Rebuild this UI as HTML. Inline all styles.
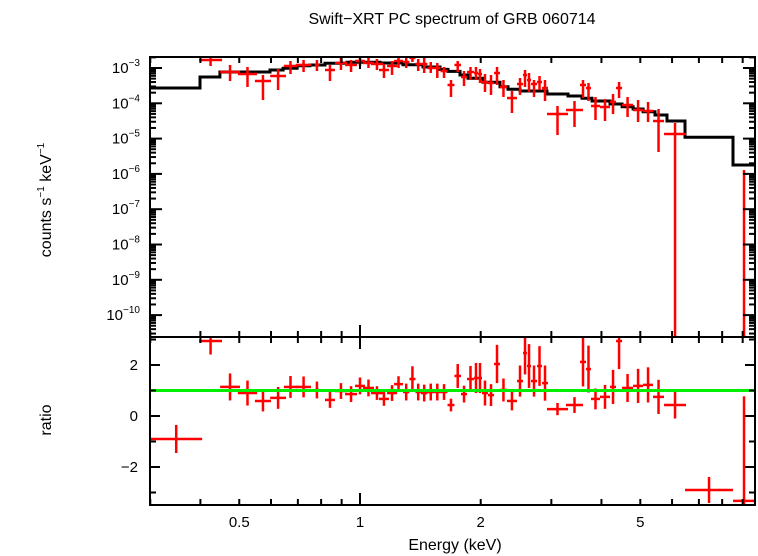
<!DOCTYPE html>
<html><head><meta charset="utf-8">
<style>
html,body{margin:0;padding:0;background:#fff;width:758px;height:556px;overflow:hidden;}
svg{display:block;font-family:"Liberation Sans",sans-serif;}
</style></head>
<body>
<svg id="chart" width="758" height="556" viewBox="0 0 758 556" xmlns="http://www.w3.org/2000/svg">
<defs>
<clipPath id="clipTop"><rect x="150" y="57" width="605" height="280"/></clipPath>
<clipPath id="clipBot"><rect x="150" y="337" width="605" height="168"/></clipPath>
</defs>
<rect width="758" height="556" fill="#fff"/>
<text x="452" y="24" font-size="16" text-anchor="middle">Swift−XRT PC spectrum of GRB 060714</text>
<text transform="translate(51,200) rotate(-90)" font-size="16" text-anchor="middle">counts s<tspan font-size="10" dy="-7">−1</tspan><tspan dy="7"> keV</tspan><tspan font-size="10" dy="-7">−1</tspan></text>
<text transform="translate(51,420) rotate(-90)" font-size="16" text-anchor="middle">ratio</text>
<text x="455" y="550" font-size="16" text-anchor="middle">Energy (keV)</text>
<g id="gModel" clip-path="url(#clipTop)"></g>
<g id="gTop" clip-path="url(#clipTop)"></g>
<g id="gBot" clip-path="url(#clipBot)"></g>
<g id="gAxes"></g>
</svg>
<script>
// energy bins (keV)
const eLo = [0.300,0.397,0.448,0.496,0.547,0.597,0.646,0.693,0.772,0.818,0.866,0.918,0.972,1.017,1.065,1.115,1.168,1.216,1.280,1.328,1.375,1.419,1.473,1.530,1.588,1.653,1.720,1.786,1.849,1.924,1.969,2.015,2.085,2.159,2.234,2.325,2.463,2.550,2.609,2.670,2.763,2.844,2.926,3.264,3.537,3.661,3.767,3.967,4.202,4.350,4.503,4.797,5.080,5.379,5.730,6.464,8.516];
const eHi = [0.404,0.453,0.502,0.554,0.600,0.654,0.697,0.755,0.790,0.866,0.928,0.983,1.029,1.084,1.141,1.181,1.237,1.280,1.328,1.375,1.419,1.473,1.530,1.588,1.653,1.720,1.786,1.849,1.924,1.969,2.015,2.085,2.159,2.234,2.325,2.463,2.550,2.609,2.670,2.763,2.844,2.943,3.302,3.598,3.661,3.767,3.967,4.202,4.350,4.503,4.797,5.080,5.379,5.730,6.501,8.516,9.77];
// counts s^-1 keV^-1 (null = non-positive)
const rate = [null,1.69e-3,7.70e-4,6.76e-4,4.28e-4,5.93e-4,1.14e-3,1.22e-3,1.22e-3,8.78e-4,1.39e-3,1.22e-3,1.58e-3,1.39e-3,1.30e-3,8.78e-4,1.14e-3,1.58e-3,1.48e-3,1.92e-3,1.30e-3,1.30e-3,1.0e-3,1.0e-3,8.22e-4,3.30e-4,1.22e-3,5.56e-4,7.70e-4,7.22e-4,6.76e-4,4.01e-4,3.76e-4,7.22e-4,2.90e-4,1.41e-4,3.52e-4,6.33e-4,4.57e-4,3.52e-4,4.01e-4,2.71e-4,4.98e-5,6.46e-5,3.30e-4,2.71e-4,8.39e-5,7.86e-5,1.09e-4,2.71e-4,8.95e-5,6.46e-5,6.05e-5,3.15e-5,1.35e-5,null,null];
const rateUp = [null,2.05e-3,1.22e-3,1.07e-3,6.33e-4,9.37e-4,1.58e-3,1.69e-3,1.69e-3,1.22e-3,1.92e-3,1.69e-3,2.19e-3,1.92e-3,1.80e-3,1.30e-3,1.58e-3,2.19e-3,2.19e-3,2.34e-3,1.80e-3,1.92e-3,1.48e-3,1.39e-3,1.07e-3,4.57e-4,1.58e-3,8.22e-4,1.07e-3,1.07e-3,9.37e-4,6.76e-4,6.33e-4,1.07e-3,4.57e-4,2.23e-4,5.21e-4,8.78e-4,7.22e-4,4.57e-4,5.93e-4,4.57e-4,8.39e-5,1.16e-4,4.57e-4,3.76e-4,1.51e-4,1.32e-4,1.83e-4,4.01e-4,1.51e-4,1.24e-4,1.09e-4,6.90e-5,2.77e-5,null,1.29e-6];
const rateDn = [null,1.14e-3,4.28e-4,2.90e-4,1.24e-4,2.38e-4,6.76e-4,7.70e-4,8.22e-4,4.28e-4,8.78e-4,7.70e-4,1.14e-3,1.0e-3,8.78e-4,5.21e-4,6.33e-4,1.0e-3,1.0e-3,1.48e-3,8.22e-4,7.22e-4,7.22e-4,5.21e-4,5.21e-4,1.51e-4,7.70e-4,3.09e-4,4.57e-4,4.57e-4,3.76e-4,2.09e-4,1.72e-4,3.30e-4,1.51e-4,5.31e-5,1.72e-4,2.90e-4,2.09e-4,1.51e-4,2.38e-4,1.16e-4,1.26e-5,2.13e-5,1.41e-4,1.16e-4,3.37e-5,3.15e-5,4.98e-5,1.41e-4,4.09e-5,2.95e-5,2.95e-5,4.17e-6,0,null,0];
const ratio = [-0.90,2.94,1.14,0.90,0.59,0.71,1.14,1.14,1.02,0.63,0.98,0.86,1.18,1.10,0.90,0.67,0.90,1.25,0.94,1.45,0.94,0.90,0.94,0.94,0.94,0.43,1.57,0.86,1.45,1.49,1.49,0.90,0.82,2.04,1.02,0.59,1.37,2.47,1.96,1.37,1.96,1.29,0.27,0.43,2.12,1.84,0.67,0.75,1.14,2.94,1.10,1.18,1.22,0.75,0.43,-2.90,-3.33];
const ratioErr = [0.55,0.53,0.53,0.49,0.41,0.43,0.43,0.41,0.33,0.31,0.31,0.31,0.33,0.33,0.27,0.27,0.31,0.31,0.33,0.50,0.33,0.33,0.33,0.33,0.31,0.25,0.47,0.33,0.51,0.59,0.59,0.49,0.43,0.75,0.45,0.37,0.61,0.84,0.86,0.61,0.78,0.69,0.24,0.31,0.96,0.92,0.41,0.47,0.67,1.10,0.55,0.67,0.69,0.67,0.53,0.51,4.10];
// model step function
const mEdges = [0.300,0.399,0.4475,0.5966,0.643,0.697,0.750,0.818,0.928,1.122,1.280,1.436,1.583,1.658,1.776,1.859,2.026,2.234,2.339,2.506,2.926,3.302,3.578,3.790,4.202,4.503,4.797,5.080,5.441,5.830,6.464,8.516,9.66];
const mVals = [2.71e-4,5.56e-4,7.70e-4,8.78e-4,9.8e-4,1.16e-3,1.22e-3,1.36e-3,1.45e-3,1.39e-3,1.24e-3,1.07e-3,9.1e-4,8.0e-4,6.33e-4,5.1e-4,3.93e-4,2.96e-4,2.49e-4,2.23e-4,1.83e-4,1.61e-4,1.39e-4,1.16e-4,9.55e-5,8.0e-5,6.9e-5,5.8e-5,4.67e-5,3.15e-5,1.09e-5,1.79e-6];
const yTopTicks = [-3,-4,-5,-6,-7,-8,-9,-10];
const yBotTicks = [-2,0,2];
const xTickLabels = [0.5,1,2,5];

const NS="http://www.w3.org/2000/svg";
const L=150,R=755,T=57,MID=337,B=505;
const lx0=Math.log10(0.2995), lx1=Math.log10(9.66);
function clamp(v,a,b){return Math.max(a,Math.min(b,v));}
function xs(e){return clamp(L+(Math.log10(e)-lx0)/(lx1-lx0)*(R-L),L,R);}
function yt(v){if(v<=0)return MID;return clamp(68+(-3-Math.log10(v))*35.3,T,MID);}
function yb(r){return clamp(416-r*25.5,MID,B);}
function el(tag,attrs,parent){const e=document.createElementNS(NS,tag);for(const k in attrs)e.setAttribute(k,attrs[k]);parent.appendChild(e);return e;}
const gTop=document.getElementById('gTop'),gBot=document.getElementById('gBot'),gModel=document.getElementById('gModel'),gAxes=document.getElementById('gAxes');

// model
let d='';
for(let i=0;i<mVals.length;i++){
  const x0=xs(mEdges[i]),x1=xs(mEdges[i+1]),y=yt(mVals[i]);
  d+=(i===0?'M':'L')+x0.toFixed(1)+','+y.toFixed(1)+'L'+x1.toFixed(1)+','+y.toFixed(1);
}
const mp=el('path',{d:d,fill:'none',stroke:'#000','stroke-width':3},gModel);



// data points
for(let i=0;i<eLo.length;i++){
  const xc=(xs(eLo[i])+xs(eHi[i]))/2;
  if(rateUp[i]!==null){
    const g=el('g',{stroke:'#f00','stroke-width':2.5},gTop);
    
    
    el('line',{x1:xc,x2:xc,y1:yt(rateUp[i]),y2:yt(rateDn[i])},g);
    if(rate[i]!==null) el('line',{x1:xs(eLo[i]),x2:xs(eHi[i]),y1:yt(rate[i]),y2:yt(rate[i])},g);
  }
  const g2=el('g',{stroke:'#f00','stroke-width':2.5},gBot);
  
  
  el('line',{x1:xc,x2:xc,y1:yb(ratio[i]+ratioErr[i]),y2:yb(ratio[i]-ratioErr[i])},g2);
  el('line',{x1:xs(eLo[i]),x2:xs(eHi[i]),y1:yb(ratio[i]),y2:yb(ratio[i])},g2);
}
// unity line
const ul=el('line',{x1:L,x2:R,y1:yb(1),y2:yb(1),stroke:'#00ee00','stroke-width':3},gAxes);



// frames
const f1=el('rect',{x:L,y:T,width:R-L,height:MID-T,fill:'none',stroke:'#000','stroke-width':2},gAxes);


const f2=el('rect',{x:L,y:MID,width:R-L,height:B-MID,fill:'none',stroke:'#000','stroke-width':2},gAxes);



// x ticks
const tg=el('g',{stroke:'#000','stroke-width':2},gAxes);


for(let dec=0.1;dec<=10;dec*=10){
  for(let m=1;m<10;m++){
    const e=m*dec; if(e<0.2995||e>9.66)continue;
    const x=xs(e), len=(m===1)?12:6;
    [[T,1],[MID,-1],[MID,1],[B,-1]].forEach(([y,s])=>el('line',{x1:x,x2:x,y1:y,y2:y+s*len},tg));
  }
}
xTickLabels.forEach(v=>{
  const t=el('text',{x:xs(v),y:527,'font-size':15,'text-anchor':'middle',stroke:'none'},gAxes);
  t.textContent=String(v);
  
  
});
// top y ticks
const yg=el('g',{stroke:'#000','stroke-width':2},gAxes);


for(let p=-11;p<=-3;p++){
  for(let m=1;m<10;m++){
    const v=m*Math.pow(10,p), yr=68+(-3-Math.log10(v))*35.3;
    if(yr<T||yr>MID)continue;
    const len=(m===1)?12:6;
    el('line',{x1:L,x2:L+len,y1:yr,y2:yr},yg);
    el('line',{x1:R,x2:R-len,y1:yr,y2:yr},yg);
  }
}
yTopTicks.forEach(p=>{
  const t=el('text',{x:140,y:yt(Math.pow(10,p))+5,'font-size':15,'text-anchor':'end'},gAxes);
  
  
  t.innerHTML='10<tspan font-size="10" dy="-7">−'+(-p)+'</tspan>';
});
// bottom y ticks
for(let r=-3;r<=3;r++){
  const y=416-r*25.5, len=(r%2===0)?10:6;
  el('line',{x1:L,x2:L+len,y1:y,y2:y},yg);
  el('line',{x1:R,x2:R-len,y1:y,y2:y},yg);
}
yBotTicks.forEach(r=>{
  const t=el('text',{x:138,y:yb(r)+5,'font-size':15,'text-anchor':'end'},gAxes);
  t.textContent=(r<0?'−':'')+Math.abs(r);
  
  
});
</script>
</body></html>
